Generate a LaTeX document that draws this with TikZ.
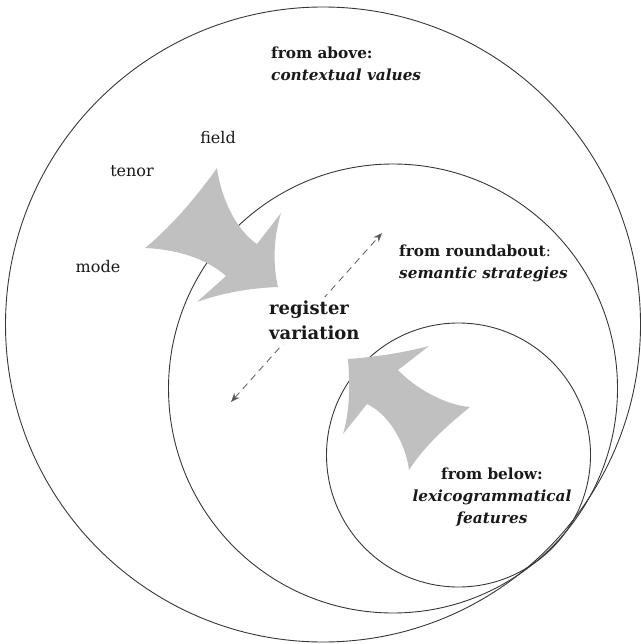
\documentclass[tikz,border=0pt]{standalone}
\usepackage{fontspec}
\setmainfont{DejaVu Serif}
\usetikzlibrary{arrows.meta}

\definecolor{arrowfill}{RGB}{192,192,192}
\definecolor{ink}{RGB}{25,25,25}
\definecolor{ringline}{RGB}{55,55,55}

\tikzset{
  ring/.style={draw=ringline, line width=0.9pt},
  fatarrow/.style={fill=arrowfill},
  dasharrow/.style={draw=black!65, line width=0.8pt, dash pattern=on 7pt off 5pt,
    {Stealth[length=9pt,width=7pt,inset=3pt]}-{Stealth[length=9pt,width=7pt,inset=3pt]}},
  plaintext/.style={text=ink, font=\fontsize{16}{19}\selectfont, inner sep=0pt},
  blocktext/.style={text=ink, font=\fontsize{15.3}{22}\selectfont, inner sep=0pt, align=left},
  centretext/.style={text=ink, font=\fontsize{18}{25.5}\selectfont\bfseries, align=left,
    fill=white, inner xsep=2pt, inner ysep=4pt},
}

\begin{document}
\begin{tikzpicture}[x=1pt,y=-1pt]
  \useasboundingbox (0,0) rectangle (640,644);

  % three nested, nearly tangent strata
  \draw[ring] (323,324.5) circle[radius=317.5pt];
  \draw[ring] (393,388.5) circle[radius=224.5pt];
  \draw[ring] (458.5,455) circle[radius=132pt];

  % two-way dashed link through the centre label
  \coordinate (lo) at (231,402);
  \coordinate (hi) at (382,233);
  \draw[dasharrow] (lo) -- (hi);
  \node[centretext, anchor=west] (register) at (267,320.5) {register\\variation};

  % influence from above (context)
  \fill[fatarrow] (217,168) .. controls (221,198) and (236,230) .. (257,244)
    -- (281,213) .. controls (273,240) and (273,265) .. (278,287)
    .. controls (250,288) and (222,293) .. (197,302)
    -- (226,276) .. controls (210,262) and (185,250) .. (145,248)
    .. controls (172,226) and (197,196) .. (217,168) -- cycle;

  % influence from below (lexicogrammar)
  \fill[fatarrow] (348,359) .. controls (375,357) and (402,353) .. (429,346)
    -- (398,370) .. controls (415,388) and (445,405) .. (470,407)
    .. controls (448,425) and (425,445) .. (409,470)
    .. controls (406,445) and (390,415) .. (367,404)
    -- (343,434) .. controls (350,410) and (350,385) .. (348,359) -- cycle;

  % labels
  \node[blocktext, anchor=west] (above) at (271,64)
    {\textbf{from above:}\\\textbf{\textit{contextual values}}};
  \node[plaintext] (field) at (218,138) {field};
  \node[plaintext] (tenor) at (132,171) {tenor};
  \node[plaintext] (mode) at (98,267) {mode};
  \node[blocktext, anchor=west] (roundabout) at (399,263.5)
    {\textbf{from roundabout}:\\\textbf{\textit{semantic strategies}}};
  \node[blocktext, align=center] (below) at (492,497)
    {\textbf{from below:}\\\textbf{\textit{lexicogrammatical}}\\\textbf{\textit{features}}};
\end{tikzpicture}
\end{document}
